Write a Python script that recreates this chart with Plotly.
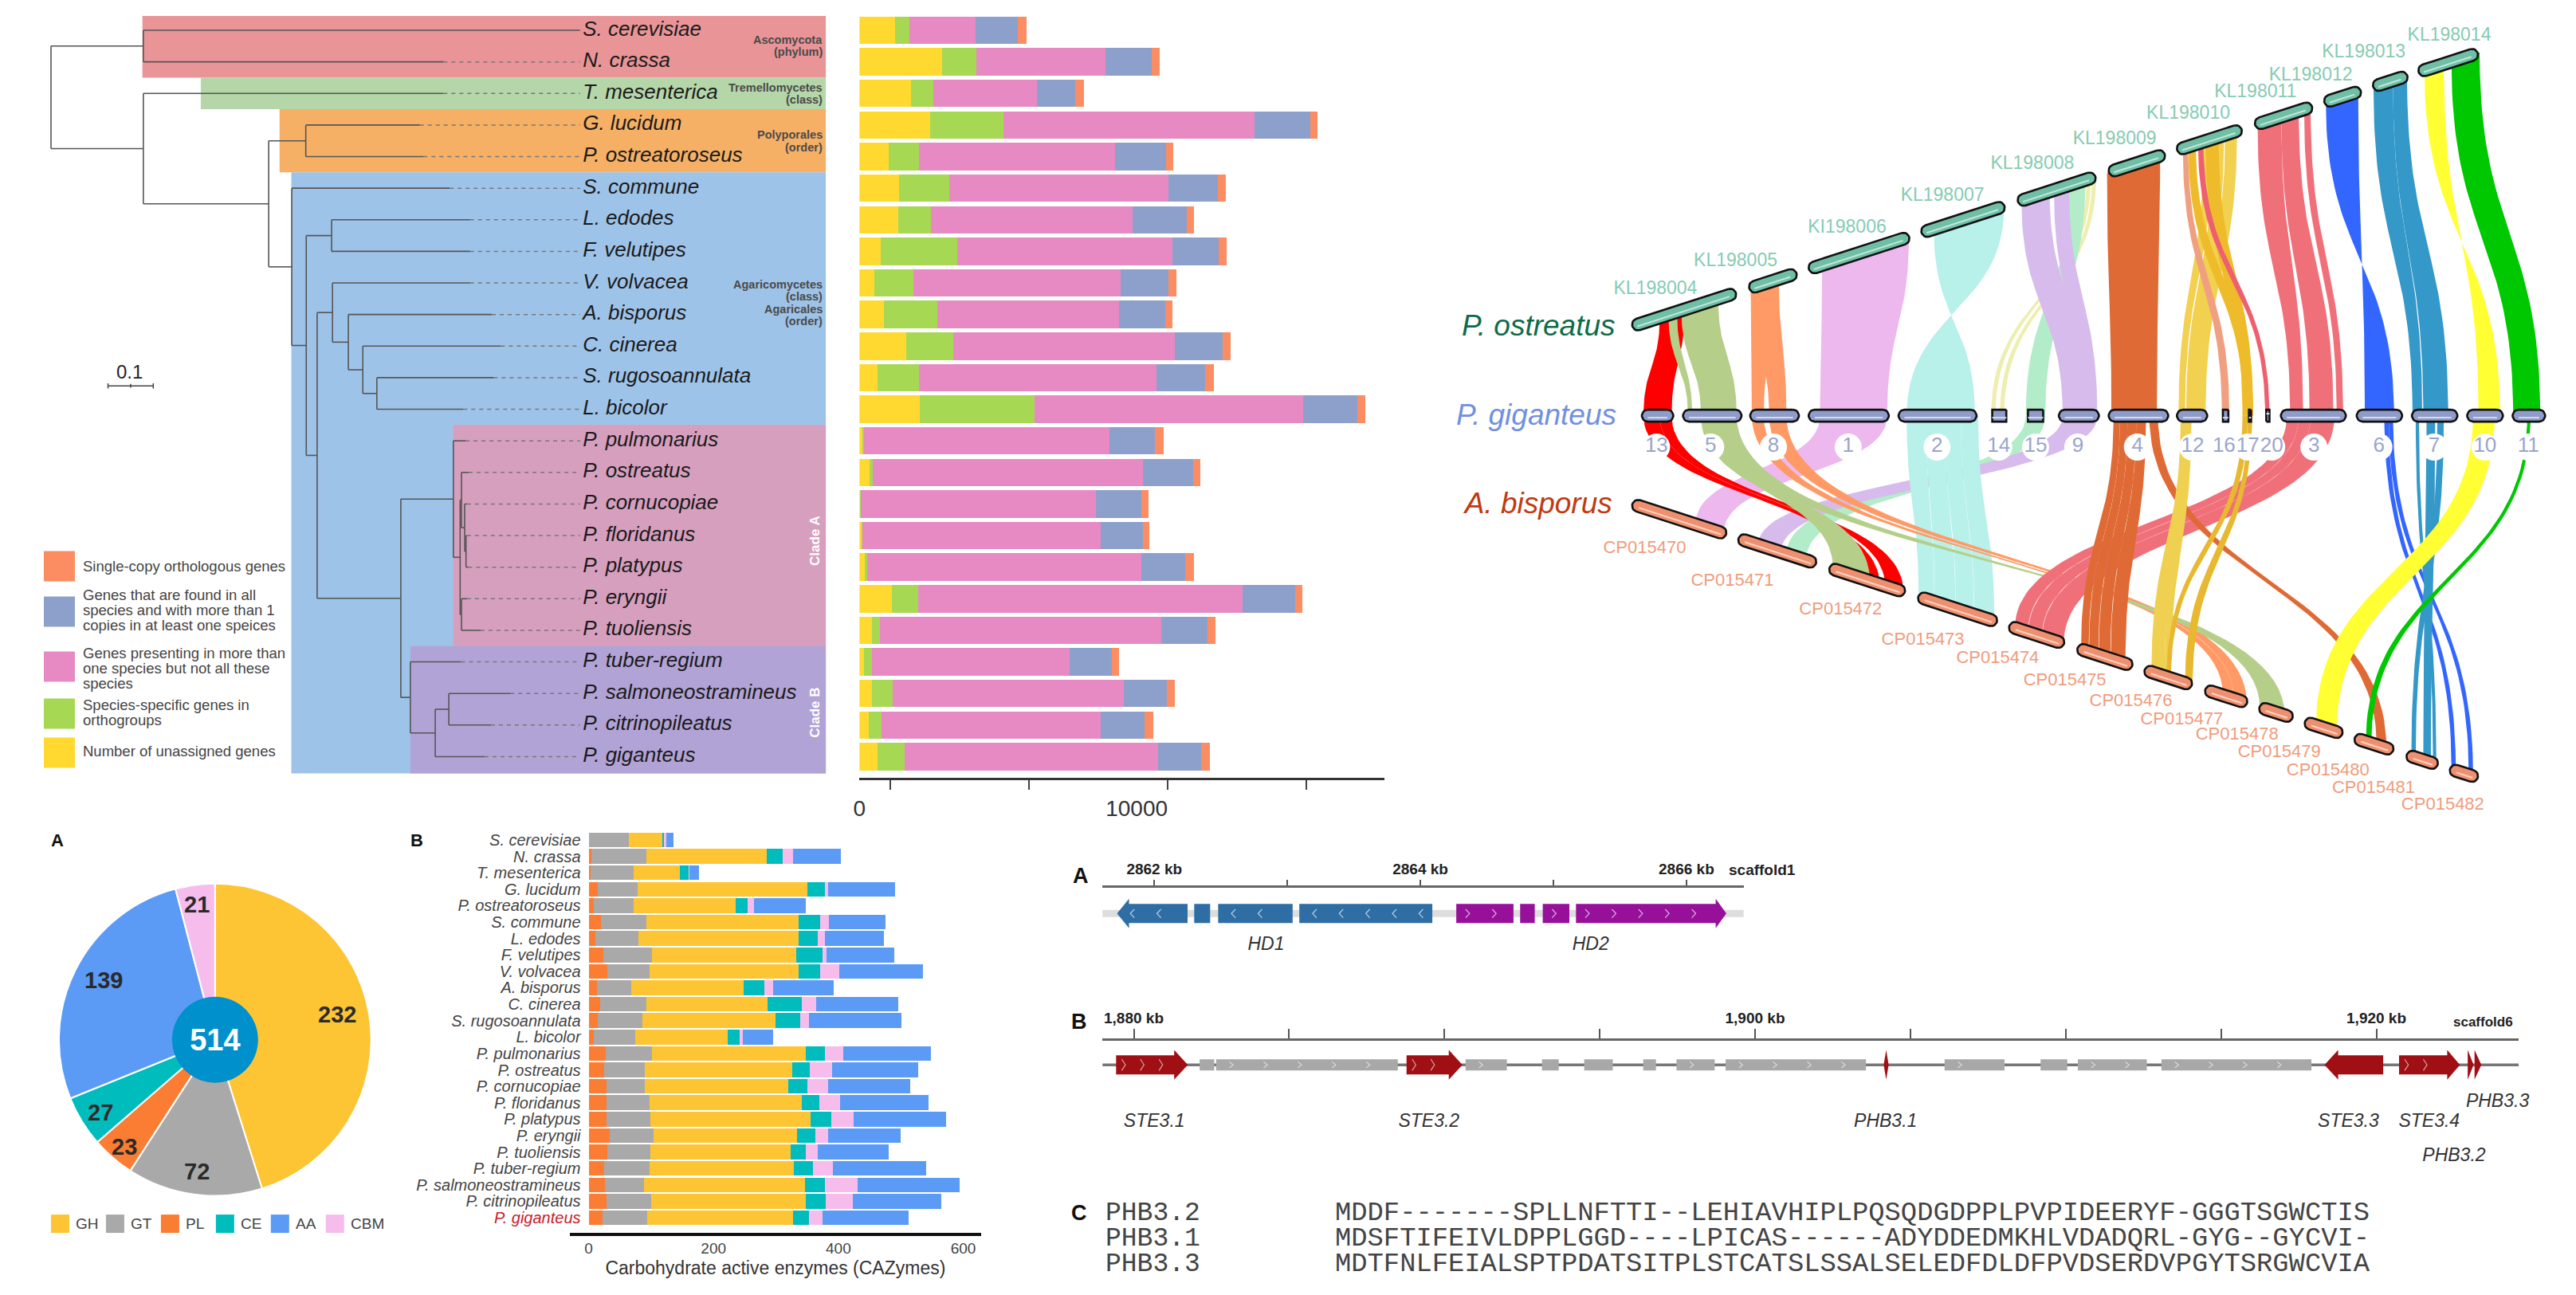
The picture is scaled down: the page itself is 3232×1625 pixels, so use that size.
import numpy as np
import plotly.graph_objects as go

W, H = 3232, 1625
SANS = "Liberation Sans"
MONO = "Liberation Mono"

# ---------- species + orthogroup bars ----------
species = ["S. cerevisiae", "N. crassa", "T. mesenterica", "G. lucidum", "P. ostreatoroseus", "S. commune",
           "L. edodes", "F. velutipes", "V. volvacea", "A. bisporus", "C. cinerea", "S. rugosoannulata",
           "L. bicolor", "P. pulmonarius", "P. ostreatus", "P. cornucopiae", "P. floridanus", "P. platypus",
           "P. eryngii", "P. tuoliensis", "P. tuber-regium", "P. salmoneostramineus", "P. citrinopileatus",
           "P. giganteus"]
unassigned = [1282, 2958, 1867, 2530, 1049, 1438, 1399, 776, 542, 893, 1672, 659, 2179, 115, 358, 57, 86, 201, 1166, 458, 172, 458, 330, 644]
specific = [507, 1247, 779, 2650, 1091, 1793, 1169, 2728, 1403, 1909, 1715, 1481, 4131, 57, 129, 3, 29, 86, 935, 279, 286, 747, 450, 972]
partial = [2377, 4638, 3742, 9040, 7053, 7872, 7249, 7755, 7443, 6547, 7950, 8534, 9664, 8827, 9720, 8432, 8572, 9842, 11691, 10132, 7099, 8300, 7900, 9140]
multi = [1520, 1675, 1364, 1988, 1832, 1793, 1948, 1676, 1715, 1637, 1714, 1754, 1949, 1636, 1793, 1637, 1520, 1598, 1870, 1637, 1520, 1559, 1578, 1536]
single = [312, 273, 311, 273, 273, 272, 273, 273, 312, 273, 312, 312, 273, 312, 272, 272, 233, 311, 273, 312, 272, 273, 315, 315]
ortho_series = [("Number of unassigned genes", unassigned, "#ffd92f"),
                ("Species-specific genes in orthogroups", specific, "#a6d854"),
                ("Genes presenting in more than one species", partial, "#e78ac3"),
                ("Genes found in all species", multi, "#8da0cb"),
                ("Single-copy orthologous genes", single, "#fc8d62")]
ortho_ticks = [1117, 6103, 11089, 16076]
ortho_ticktext = ["0", "", "10000", ""]

# ---------- tree: (node depth, children), tip = species index with depth ----------
tip_depth = [1.169, .867, .867, .815, .823, .881, .926, .926, .926, .974, .994, .978, .911, .916, .923, .919, .919, .922, .919, .949, .906, 1.015, .972, .958]
label_depth = 1.169
tree = (0, [(.204, [0, 1]),
            (.204, [2, (.481, [(.563, [3, 4]),
                (.532, [5, (.564, [(.620, [6, 7]),
                    (.588, [(.622, [8, (.657, [9, (.689, [10, (.720, [11, 12])])])]),
                        (.773, [(.889, [13, (.904, [(.907, [14, (.914, [15, (.917, [16, 17])])]), (.907, [18, 19])])]),
                            (.794, [20, (.849, [(.879, [21, 22]), 23])])])])])])])])])
bands = [(-.455, 1.5, .202, "#e99598"), (1.5, 2.5, .331, "#b5d6a9"), (2.5, 4.5, .505, "#f6b065"),
         (4.5, 23.53, .531, "#9ec3e8"), (12.5, 19.5, .889, "#d79fbe"), (19.5, 23.53, .794, "#b2a3d6")]
band_end = 1.712
legend_colors = ["#fc8d62", "#8da0cb", "#e78ac3", "#a6d854", "#ffd92f"]
legend_lines = [["Single-copy orthologous genes"],
                ["Genes that are found in all", "species and with more than 1", "copies in at least one speices"],
                ["Genes presenting in more than", "one species but not all these", "species"],
                ["Species-specific genes in", "orthogroups"],
                ["Number of unassigned genes"]]
taxon_notes = [("Ascomycota", 49), ("(phylum)", 64), ("Tremellomycetes", 109), ("(class)", 124), ("Polyporales", 168),
               ("(order)", 184), ("Agaricomycetes", 356), ("(class)", 371), ("Agaricales", 387), ("(order)", 402)]

# ---------- CAZymes ----------
caz_types = ["GH", "GT", "PL", "CE", "AA", "CBM"]
caz_total = [232, 72, 23, 27, 139, 21]
caz_colors = {"GH": "#fdc534", "GT": "#a9a9a9", "PL": "#fb7c33", "CE": "#00bcbc", "AA": "#5b9bf6", "CBM": "#f6bdec"}
caz_PL = [0, 4, 3, 14, 8, 20, 11, 23, 30, 13, 19, 15, 8, 28, 25, 29, 29, 29, 34, 30, 25, 26, 29, 22]
caz_GT = [65, 88, 69, 65, 64, 73, 69, 79, 68, 55, 74, 71, 67, 73, 65, 61, 69, 70, 70, 69, 72, 63, 71, 72]
caz_GH = [53, 193, 74, 271, 163, 243, 256, 231, 238, 180, 194, 213, 148, 247, 236, 230, 243, 256, 230, 224, 232, 258, 248, 233]
caz_CE = [2, 26, 14, 29, 20, 35, 31, 42, 35, 33, 55, 40, 19, 30, 28, 31, 29, 34, 29, 25, 30, 31, 32, 26]
caz_CBM = [4, 16, 1, 5, 10, 14, 11, 6, 30, 14, 22, 14, 5, 30, 36, 33, 33, 35, 20, 19, 32, 53, 43, 21]
caz_AA = [12, 77, 16, 107, 83, 91, 95, 109, 135, 97, 132, 148, 48, 140, 138, 131, 142, 148, 117, 114, 149, 163, 142, 139]
pie_label_x = [421, 245, 154, 124, 128, 245]
pie_label_y = [1273, 1470, 1439, 1396, 1230, 1135]

# ---------- synteny (positions along each track) ----------
top_names = ["KL198004", "KL198005", "KI198006", "KL198007", "KL198008", "KL198009", "KL198010", "KL198011", "KL198012", "KL198013", "KL198014"]
top_start = [697, 805, 860, 964, 1053, 1137, 1200, 1272, 1336, 1381, 1423]
top_end = [792, 848, 952, 1040, 1124, 1188, 1259, 1324, 1369, 1412, 1477]
top_lab_x = [718, 792, 895, 983, 1066, 1142, 1210, 1272, 1323, 1372, 1451]
top_lab_y = [552, 499, 435, 373, 312, 266, 216, 176, 144, 100, 67]
mid_names = ["13", "5", "8", "1", "2", "14", "15", "9", "4", "12", "16", "17", "20", "3", "6", "7", "10", "11"]
mid_start = [707, 745, 807, 861, 944, 1025, 1058, 1092, 1138, 1201, 1238, 1262, 1281, 1297, 1367, 1418, 1469, 1511]
mid_end = [733, 796, 849, 932, 1013, 1046, 1080, 1126, 1190, 1226, 1251, 1272, 1286, 1354, 1406, 1457, 1499, 1538]
mid_lab_x = [719, 769, 827, 896, 978, 1035, 1069, 1108, 1163, 1214, 1243, 1265, 1287, 1326, 1386, 1437, 1484, 1524]
mid_square = ["14", "15", "16", "17", "20"]
bot_names = ["CP015470", "CP015471", "CP015472", "CP015473", "CP015474", "CP015475", "CP015476", "CP015477", "CP015478", "CP015479", "CP015480", "CP015481", "CP015482"]
bot_start = [697, 795, 879, 961, 1045, 1108, 1170, 1226, 1276, 1318, 1364, 1412, 1452]
bot_end = [783, 866, 948, 1033, 1095, 1158, 1213, 1264, 1306, 1352, 1399, 1440, 1477]
bot_lab_x = [708, 789, 889, 965, 1034, 1096, 1157, 1204, 1255, 1294, 1339, 1381, 1445]
bot_lab_y = [1047, 1109, 1165, 1223, 1258, 1300, 1339, 1374, 1404, 1437, 1472, 1505, 1537]
# links: P. ostreatus interval -> P. giganteus interval
links_top = [
    (872, 952, 870, 932, "#ecb8ee"), (975, 1040, 1013, 950, "#b8f0ea"),
    (1116, 1120, 1028, 1032, "#eeeeb0"), (1121, 1125, 1036, 1040, "#eeeeb0"),
    (1100, 1115, 1060, 1078, "#b3ecc8"), (1056, 1082, 1094, 1120, "#d7bbec"), (1086, 1100, 1112, 1126, "#d7bbec"),
    (722, 745, 707, 733, "#ff0000"), (730, 738, 748, 752, "#b5cf8a"), (742, 776, 760, 793, "#b5cf8a"),
    (806, 832, 807, 818, "#ff9a66"), (806, 832, 823, 839, "#ff9a66"), (1135, 1184, 1139, 1181, "#e06a35"),
    (1224, 1232, 1201, 1207, "#f2d050"), (1233, 1243, 1208, 1215, "#f2d050"), (1244, 1255, 1212, 1226, "#f2d050"),
    (1210, 1217, 1261, 1270, "#eebc2a"), (1226, 1238, 1260, 1270, "#eebc2a"),
    (1205, 1210, 1241, 1248, "#f0a080"), (1219, 1224, 1281, 1285, "#ee6070"),
    (1274, 1296, 1304, 1316, "#f0707a"), (1296, 1312, 1322, 1344, "#f0707a"), (1317, 1323, 1347, 1353, "#f0707a"),
    (1337, 1367, 1400, 1373, "#3366ff"), (1381, 1399, 1417, 1426, "#3498c8"), (1399, 1412, 1427, 1450, "#3498c8"),
    (1428, 1446, 1498, 1478, "#ffff33"), (1453, 1479, 1510, 1535, "#00c800")]
# links: P. giganteus interval -> A. bisporus interval
links_bot = [
    (870, 932, 755, 781, "#ecb8ee"), (1060, 1078, 839, 857, "#b3ecc8"), (1094, 1126, 813, 834, "#d7bbec"),
    (950, 968, 961, 975.5, "#b8f0ea"), (968, 985, 975.8, 995, "#b8f0ea"), (985, 1000, 995.4, 1012, "#b8f0ea"), (1000, 1016, 1012.4, 1031, "#b8f0ea"),
    (707, 722, 908, 925, "#ff0000"), (722, 733, 930, 947, "#ff0000"), (760, 778, 882, 916, "#b5cf8a"),
    (807, 818, 1242, 1252, "#ff9a66"), (823, 839, 1252, 1264, "#ff9a66"), (772, 793, 1276, 1299, "#b5cf8a"),
    (1301, 1312, 1050, 1062, "#f0707a"), (1312, 1323, 1062.4, 1075, "#f0707a"), (1323, 1345, 1075.4, 1095, "#f0707a"),
    (1141, 1147, 1111, 1118, "#e06a35"), (1147, 1154, 1118.4, 1127, "#e06a35"), (1154, 1162, 1127.4, 1138, "#e06a35"), (1162, 1171, 1138.4, 1152, "#e06a35"),
    (1174, 1182, 1384, 1393, "#e06a35"),
    (1203, 1212, 1176, 1188, "#f0d050"), (1209, 1213, 1188, 1194, "#f0d050"), (1260, 1265, 1190, 1194, "#e8b830"), (1265, 1269, 1207, 1214, "#e8b830"),
    (1391, 1395, 1453, 1457, "#3366ff"), (1395, 1399, 1469, 1473, "#3366ff"),
    (1420, 1423, 1436, 1439, "#3498c8"), (1430, 1438, 1427, 1434, "#3498c8"), (1440, 1446, 1416, 1420, "#3498c8"),
    (1473, 1493, 1328, 1347, "#ffff33"), (1523, 1526, 1374, 1379, "#00c800")]
track_species = [("P. ostreatus", 610, 625, "#0e6b4a"), ("P. giganteus", 608, 797, "#7090e0"), ("A. bisporus", 610, 965, "#c03a10")]

# ---------- gene maps ----------
hd_exons_left = [(2861.72, 2862.25), (2862.30, 2862.42), (2862.48, 2863.04), (2863.09, 2864.09)]
hd_exons_right = [(2864.27, 2864.70), (2864.75, 2864.86), (2864.92, 2865.12), (2865.17, 2866.30)]
hd_ticks = [2862, 2863, 2864, 2865, 2866]
hd_ticktext = ["2862 kb", "", "2864 kb", "", "2866 kb"]
ste_ticks = [1880, 1885, 1890, 1895, 1900, 1905, 1910, 1915, 1920]
ste_ticktext = ["1,880 kb", "", "", "", "1,900 kb", "", "", "", "1,920 kb"]
grey_genes = [(1882.12, 1882.59), (1882.65, 1888.50), (1890.68, 1892.01), (1893.14, 1893.68), (1894.50, 1895.42), (1896.40, 1896.81),
              (1897.47, 1898.70), (1899.05, 1903.57), (1906.10, 1908.03), (1909.19, 1910.05), (1910.39, 1912.61), (1913.08, 1917.91)]
red_genes = [(1879.43, 1881.74, 1881.30, 1), (1888.78, 1890.58, 1890.14, 1), (1918.33, 1920.22, 1918.77, -1), (1920.73, 1922.69, 1922.28, 1),
             (1922.94, 1923.13, 1922.94, 1), (1923.16, 1923.38, 1923.16, 1)]
phb31 = (1904.14, 1904.30)
ste_labels = [("STE3.1", 1880.66, -6), ("STE3.2", 1889.5, -6), ("PHB3.1", 1904.2, -6), ("STE3.3", 1919.1, -6), ("STE3.4", 1921.7, -6),
              ("PHB3.3", 1923.9, -3.9), ("PHB3.2", 1922.5, -9.6)]
align_names = ["PHB3.2", "PHB3.1", "PHB3.3"]
align_seqs = ["MDDF-------SPLLNFTTI--LEHIAVHIPLPQSQDGDPPLPVPIDEERYF-GGGTSGWCTIS",
              "MDSFTIFEIVLDPPLGGD----LPICAS------ADYDDEDMKHLVDADQRL-GYG--GYCVI-",
              "MDTFNLFEIALSPTPDATSITPLSTCATSLSSALSELEDFDLDFPVDSERDVPGYTSRGWCVIA"]

# ---------- helpers ----------
def adj(x):
    return x - 6 * (1 - x / W)
def dx(a, b):
    return [adj(a) / W, adj(b) / W]
def dy(a, b):
    return [1 - b / H, 1 - a / H]
def px(x):
    return adj(x) / W
def py(y):
    return 1 - y / H

fig = go.Figure()
NOAX = dict(visible=False, showgrid=False, zeroline=False)
layout = dict(width=W, height=H, margin=dict(l=0, r=0, t=0, b=0), paper_bgcolor="white", plot_bgcolor="rgba(0,0,0,0)",
              showlegend=False, barmode="stack", font=dict(family=SANS, color="#333333"))
shapes, notes = [], []

def note(text, x, y, size, color="#333333", bold=False, italic=False, anchor="center", angle=0, family=SANS):
    notes.append(dict(text=f"<b>{text}</b>" if bold else text, x=px(x), y=py(y), xref="paper", yref="paper", showarrow=False,
                      xanchor=anchor, yanchor="middle", textangle=angle,
                      font=dict(family=family, size=size, color=color, style="italic" if italic else "normal")))

# ---------- tree ----------
TX0, TS = 62, 568.2
layout["xaxis"] = dict(domain=dx(10, 1060), range=[(10 - TX0) / TS, (1060 - TX0) / TS], anchor="y", **NOAX)
layout["yaxis"] = dict(domain=dy(17.2, 975.6), range=[23.67, -.5], anchor="x", **NOAX)
for r0, r1, d, c in bands:
    shapes.append(dict(type="rect", xref="x", yref="y", x0=d, x1=band_end, y0=r0, y1=r1, fillcolor=c, line_width=0, layer="below"))
sx, sy, dashx, dashy = [], [], [], []
def walk(node, parent):
    if isinstance(node, int):
        sx.extend([parent, tip_depth[node], None]); sy.extend([node, node, None])
        dashx.extend([tip_depth[node], label_depth, None]); dashy.extend([node, node, None])
        return node
    d, kids = node
    ys = [walk(k, d) for k in kids]
    yc = (ys[0] + ys[-1]) / 2
    sx.extend([d, d, None]); sy.extend([ys[0], ys[-1], None])
    if parent is not None:
        sx.extend([parent, d, None]); sy.extend([yc, yc, None])
    return yc
walk(tree, None)
fig.add_trace(go.Scatter(x=dashx, y=dashy, mode="lines", line=dict(color="#777777", width=1.5, dash="5px,5px"), xaxis="x", yaxis="y", hoverinfo="skip"))
fig.add_trace(go.Scatter(x=sx, y=sy, mode="lines", line=dict(color="#555555", width=1.6), xaxis="x", yaxis="y", hoverinfo="skip"))
fig.add_trace(go.Scatter(x=[1.175] * 24, y=list(range(24)), mode="text", text=species, textposition="middle right", cliponaxis=False,
                         textfont=dict(family=SANS, size=26, color="#1a1a1a", style="italic"), xaxis="x", yaxis="y", hoverinfo="skip"))
fig.add_trace(go.Scatter(x=[.126, .226, None, .126, .126, None, .226, .226, None, .176, .176], y=[11.26, 11.26, None, 11.18, 11.34, None, 11.18, 11.34, None, 11.2, 11.32],
                         mode="lines", line=dict(color="#444444", width=1.5), xaxis="x", yaxis="y", hoverinfo="skip"))
note("0.1", 161, 466, 24, "#222222")
for t, y in taxon_notes:
    note(t, 1033, y, 14.5, "#4a4a4a", bold=True, anchor="right")
note("Clade A", 1021, 678, 17, "white", bold=True, angle=-90)
note("Clade B", 1021, 894, 17, "white", bold=True, angle=-90)
sw = [(691, 729), (748, 786), (817, 855), (876, 914), (925, 963)]
ly = [[710], [746, 765, 784], [819, 838, 857], [884, 903], [942]]
for c, (a, b), ls, ys in zip(legend_colors, sw, legend_lines, ly):
    shapes.append(dict(type="rect", xref="paper", yref="paper", x0=px(53), x1=px(92), y0=py(a), y1=py(b), fillcolor=c, line_width=0))
    for t, y in zip(ls, ys):
        note(t, 100, y, 18.5, "#444444", anchor="left")

# ---------- ortholog bars ----------
layout["xaxis2"] = dict(domain=dx(1077, 1736), range=[0, 659 / .0349], anchor="y2", showgrid=False, zeroline=False, showline=True, linecolor="#333333",
                        linewidth=2.5, ticks="outside", ticklen=12, tickwidth=2, tickcolor="#444444", tickvals=ortho_ticks, ticktext=ortho_ticktext,
                        ticklabelshift=-39, tickfont=dict(size=28, color="#333333"))
layout["yaxis2"] = dict(domain=dy(17.2, 975.6), range=[23.67, -.5], anchor="x2", **NOAX)
for n, v, c in ortho_series:
    fig.add_trace(go.Bar(y=list(range(24)), x=v, orientation="h", name=n, marker=dict(color=c, line_width=0), width=.87, xaxis="x2", yaxis="y2", hoverinfo="skip"))

# ---------- pie ----------
fig.add_trace(go.Pie(values=caz_total, labels=caz_types, sort=False, direction="clockwise", rotation=0, domain=dict(x=dx(72, 464), y=dy(1108.5, 1500.5)),
                     marker=dict(colors=[caz_colors[t] for t in caz_types], line=dict(color="white", width=2)), textinfo="none", hoverinfo="skip"))
fig.add_trace(go.Pie(values=[sum(caz_total)], labels=["total"], sort=False, domain=dict(x=dx(214, 322), y=dy(1250.5, 1358.5)), marker=dict(colors=["#0090cc"], line_width=0),
                     textinfo="value", textposition="inside", insidetextfont=dict(family=SANS, size=38, color="white", weight="bold"), hoverinfo="skip"))
for v, x, y in zip(caz_total, pie_label_x, pie_label_y):
    note(str(v), x, y, 29, "#2a2a2a", bold=True)
note("A", 70, 1054, 22, "#111111", bold=True)
note("B", 521, 1054, 22, "#111111", bold=True)
lx = [62, 131, 200, 269, 338, 407]
for t, x in zip(caz_types, lx):
    shapes.append(dict(type="rect", xref="paper", yref="paper", x0=px(x), x1=px(x + 23), y0=py(1524), y1=py(1547), fillcolor=caz_colors[t], line_width=0))
    note(t, x + 29, 1535, 19, "#444444", anchor="left")

# ---------- CAZy bars ----------
layout["xaxis3"] = dict(domain=dx(713, 1230), range=[-30.6, 629], anchor="y3", showgrid=False, zeroline=False, showline=True, linecolor="#111111", linewidth=3.5,
                        ticks="", tickvals=[0, 200, 400, 600], tickfont=dict(size=19, color="#444444"),
                        title=dict(text="Carbohydrate active enzymes (CAZymes)", font=dict(size=23, color="#333333"), standoff=8))
layout["yaxis3"] = dict(domain=dy(1043.3, 1546.5), range=[23.9, -.5], anchor="free", position=px(727), showgrid=False, zeroline=False, showline=False, ticks="",
                        tickvals=list(range(24)), ticktext=[s if s != "P. giganteus" else f'<span style="color:#c8202a">{s}</span>' for s in species],
                        tickfont=dict(size=20, color="#444444", style="italic"))
for n, v in [("PL", caz_PL), ("GT", caz_GT), ("GH", caz_GH), ("CE", caz_CE), ("CBM", caz_CBM), ("AA", caz_AA)]:
    fig.add_trace(go.Bar(y=list(range(24)), x=v, orientation="h", name=n, marker=dict(color=caz_colors[n], line_width=0), width=.9, xaxis="x3", yaxis="y3", hoverinfo="skip"))

# ---------- synteny ----------
SX, SY = 2132 / 1568, 1030 / 1568
layout["xaxis4"] = dict(domain=dx(1800, 3232), range=[(1800 - 1100) / SX, 2132 / SX], anchor="y4", **NOAX)
layout["yaxis4"] = dict(domain=dy(0, 1030), range=[1568, 0], anchor="x4", **NOAX)
def top_y(x):
    return 622 + (x - 697) * (100 - 622) / (1477 - 697)
def bot_y(x):
    return 962 + (x - 697) * (1485 - 962) / (1477 - 697)
MID = 793
def bez(x0, y0, x1, y1, n=50):
    t = np.linspace(0, 1, n)
    c = (y0 + y1) / 2
    x = (1 - t) ** 3 * x0 + 3 * (1 - t) ** 2 * t * x0 + 3 * (1 - t) * t ** 2 * x1 + t ** 3 * x1
    y = (1 - t) ** 3 * y0 + 3 * (1 - t) ** 2 * t * c + 3 * (1 - t) * t ** 2 * c + t ** 3 * y1
    return x, y
def ribbon(a0, a1, ya0, ya1, b0, b1, yb0, yb1, color):
    x0, y0 = bez(a0, ya0, b0, yb0)
    x1, y1 = bez(a1, ya1, b1, yb1)
    fig.add_trace(go.Scatter(x=np.r_[x0, x1[::-1], x0[0]], y=np.r_[y0, y1[::-1], y0[0]], mode="lines", fill="toself", fillcolor=color,
                             line=dict(width=0), xaxis="x4", yaxis="y4", hoverinfo="skip"))
for a0, a1, b0, b1, c in links_bot:
    ribbon(b0, b1, bot_y(b0), bot_y(b1), a0, a1, MID, MID, c)
for a0, a1, b0, b1, c in links_top:
    ribbon(a0, a1, top_y(a0), top_y(a1), b0, b1, MID, MID, c)
fig.add_trace(go.Scatter(x=mid_lab_x, y=[853] * len(mid_lab_x), mode="markers+text", text=mid_names, textposition="middle center",
                         marker=dict(color="white", size=34, line_width=0), textfont=dict(size=26, color="#9aa5cc"), xaxis="x4", yaxis="y4", hoverinfo="skip"))
def capsule(x0, y0, x1, y1, fill, streak, square=False):
    ax, ay, bx, by = x0 * SX, y0 * SY, x1 * SX, y1 * SY
    ang = np.arctan2(by - ay, bx - ax)
    r = 7.5
    if square:
        xs = np.r_[bx + r * np.cos(ang - np.pi / 2), bx + r * np.cos(ang + np.pi / 2), ax + r * np.cos(ang + np.pi / 2), ax + r * np.cos(ang - np.pi / 2)]
        ys = np.r_[by + r * np.sin(ang - np.pi / 2), by + r * np.sin(ang + np.pi / 2), ay + r * np.sin(ang + np.pi / 2), ay + r * np.sin(ang - np.pi / 2)]
    else:
        t1 = np.linspace(ang - np.pi / 2, ang + np.pi / 2, 12)
        t2 = np.linspace(ang + np.pi / 2, ang + 3 * np.pi / 2, 12)
        xs = np.r_[bx + r * np.cos(t1), ax + r * np.cos(t2)]
        ys = np.r_[by + r * np.sin(t1), ay + r * np.sin(t2)]
    xs, ys = np.r_[xs, xs[0]] / SX, np.r_[ys, ys[0]] / SY
    fig.add_trace(go.Scatter(x=xs, y=ys, mode="lines", fill="toself", fillcolor=fill, line=dict(color="#111111", width=2.6), xaxis="x4", yaxis="y4", hoverinfo="skip"))
    ox, oy = 2.5 * np.sin(ang), -2.5 * np.cos(ang)
    fig.add_trace(go.Scatter(x=[(ax + ox) / SX, (bx + ox) / SX], y=[(ay - oy) / SY, (by - oy) / SY], mode="lines", line=dict(color=streak, width=2), xaxis="x4", yaxis="y4", hoverinfo="skip"))
for a, b in zip(top_start, top_end):
    capsule(a + 5, top_y(a + 5), b - 5, top_y(b - 5), "#6fbfa6", "#c3e6da")
for n, a, b in zip(mid_names, mid_start, mid_end):
    capsule(a + 4, MID, b - 4, MID, "#8f9cc9", "#d5daec", square=n in mid_square)
for a, b in zip(bot_start, bot_end):
    capsule(a + 5, bot_y(a + 5), b - 5, bot_y(b - 5), "#ee9070", "#f8d2c2")
def syn_text(xs, ys, t, size, color, italic=False):
    fig.add_trace(go.Scatter(x=xs, y=ys, mode="text", text=t, textposition="middle center", cliponaxis=False,
                             textfont=dict(size=size, color=color, style="italic" if italic else "normal"), xaxis="x4", yaxis="y4", hoverinfo="skip"))
syn_text(top_lab_x, top_lab_y, top_names, 23, "#86cbb2")
syn_text(bot_lab_x, bot_lab_y, bot_names, 22, "#f09c7c")
for t, x, y, c in track_species:
    syn_text([x], [y], [t], 37, c, italic=True)

# ---------- gene map A ----------
def gene_poly(a, b, base=None, d=0, h=1.0, head=1.55):
    if d > 0:
        return [a, base, base, b, base, base, a, a, None], [h, h, head, 0, -head, -h, -h, h, None]
    if d < 0:
        return [b, base, base, a, base, base, b, b, None], [h, h, head, 0, -head, -h, -h, h, None]
    return [a, b, b, a, a, None], [h, h, -h, -h, h, None]
def draw(polys, color, ax):
    xs, ys = [], []
    for p in polys:
        xs += p[0]; ys += p[1]
    fig.add_trace(go.Scatter(x=xs, y=ys, mode="lines", fill="toself", fillcolor=color, line=dict(width=0), xaxis="x" + ax, yaxis="y" + ax, hoverinfo="skip"))
def chevrons(exons, d, step, ax, color="rgba(255,255,255,.7)", h=.45, w=.03):
    xs, ys = [], []
    for a, b in exons:
        for x in np.arange(a + step / 2, b - step / 3, step):
            xs += [x + w * d * -1, x, x + w * d * -1, None]; ys += [h, 0, -h, None]
    fig.add_trace(go.Scatter(x=xs, y=ys, mode="lines", line=dict(color=color, width=1.2), xaxis="x" + ax, yaxis="y" + ax, hoverinfo="skip"))
ruler = dict(showgrid=False, zeroline=False, showline=True, linecolor="#666666", linewidth=3, side="top", ticks="outside", tickcolor="#555555", tickwidth=1.5,
             tickfont=dict(size=19, color="#222222", family=SANS, weight="bold"))
layout["xaxis5"] = dict(domain=dx(1382, 2187), range=[2861.61, 2866.43], anchor="y5", ticklen=7, tickvals=hd_ticks, ticktext=hd_ticktext, **ruler)
layout["yaxis5"] = dict(domain=dy(1114, 1205), range=[-4.92, 2.667], anchor="x5", **NOAX)
fig.add_trace(go.Scatter(x=[2861.61, 2866.47], y=[0, 0], mode="lines", line=dict(color="#dddddd", width=9), cliponaxis=False, xaxis="x5", yaxis="y5", hoverinfo="skip"))
draw([gene_poly(*hd_exons_left[0], base=2861.81, d=-1)] + [gene_poly(a, b) for a, b in hd_exons_left[1:]], "#2f6ea5", "5")
draw([gene_poly(a, b) for a, b in hd_exons_right[:-1]] + [gene_poly(*hd_exons_right[-1], base=2866.22, d=1)], "#96109a", "5")
chevrons(hd_exons_left, -1, .2, "5")
chevrons(hd_exons_right, 1, .2, "5")
fig.add_trace(go.Scatter(x=[2862.84, 2865.28], y=[-3.33, -3.33], mode="text", text=["HD1", "HD2"], textfont=dict(size=23, color="#333333", style="italic"), xaxis="x5", yaxis="y5", hoverinfo="skip"))
note("scaffold1", 2210, 1091, 19, "#222222", bold=True)
note("A", 1355, 1099, 27, "#111111", bold=True)

# ---------- gene map B ----------
layout["xaxis6"] = dict(domain=dx(1382, 3160), range=[1878.99, 1924.58], anchor="y6", ticklen=12, tickvals=ste_ticks, ticktext=ste_ticktext, **ruler)
layout["yaxis6"] = dict(domain=dy(1306, 1470), range=[-11.17, 2.5], anchor="x6", **NOAX)
fig.add_trace(go.Scatter(x=[1878.99, 1924.58], y=[0, 0], mode="lines", line=dict(color="#777777", width=3.5), xaxis="x6", yaxis="y6", hoverinfo="skip"))
draw([gene_poly(a, b, h=.58) for a, b in grey_genes], "#a8a8a8", "6")
draw([gene_poly(a, b, base=c, d=d) for a, b, c, d in red_genes] + [([phb31[0], sum(phb31) / 2, phb31[1], sum(phb31) / 2, phb31[0], None], [0, 1.55, 0, -1.55, 0, None])], "#a00f14", "6")
chevrons([g for g in grey_genes if g[1] - g[0] > 1], 1, 1.1, "6", color="rgba(255,255,255,.55)", h=.32, w=.12)
chevrons([(r[0], r[2]) for r in red_genes[:4]], 1, .6, "6", color="rgba(255,255,255,.6)", h=.6, w=.12)
fig.add_trace(go.Scatter(x=[l[1] for l in ste_labels], y=[l[2] for l in ste_labels], mode="text", text=[l[0] for l in ste_labels], cliponaxis=False,
                         textfont=dict(size=23, color="#333333", style="italic"), xaxis="x6", yaxis="y6", hoverinfo="skip"))
note("scaffold6", 3115, 1282, 17, "#222222", bold=True)
note("B", 1353, 1282, 27, "#111111", bold=True)

# ---------- alignment ----------
note("C", 1353, 1522, 27, "#111111", bold=True)
for n, s, y in zip(align_names, align_seqs, [1522, 1554, 1586]):
    note(n, 1384, y, 33, "#444444", anchor="left", family=MONO)
    note(s, 1672, y, 33.8, "#444444", anchor="left", family=MONO)

layout["shapes"] = shapes
layout["annotations"] = notes
fig.update_layout(**layout)
fig.write_html("out.html", include_plotlyjs=True, config=dict(displayModeBar=False),
               post_script="document.body.style.margin='0';document.body.style.overflow='hidden';")
